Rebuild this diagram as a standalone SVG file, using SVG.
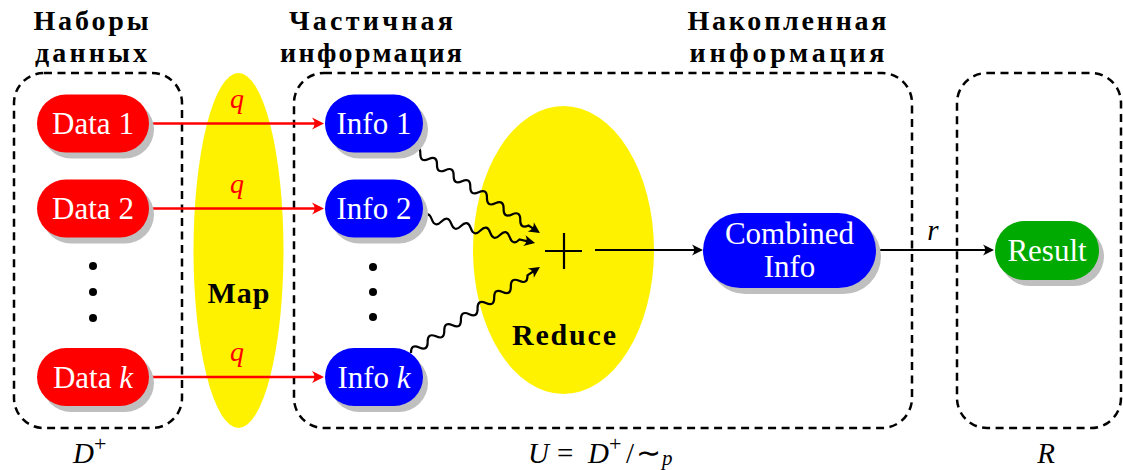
<svg xmlns="http://www.w3.org/2000/svg" width="1123" height="470" viewBox="0 0 1123 470">
<style>
.box{fill:none;stroke:#000;stroke-width:2.5;stroke-dasharray:8 5.5}
.title{font-family:"Liberation Serif","Times New Roman",serif;font-weight:bold;font-size:28px;fill:#000;text-anchor:middle}
.nt{font-family:"Liberation Serif","Times New Roman",serif;font-size:31px;fill:#fff;text-anchor:middle}
.bold{font-family:"Liberation Serif","Times New Roman",serif;font-weight:bold;font-size:30px;fill:#000;text-anchor:middle}
.math{font-family:"Liberation Serif","Times New Roman",serif;font-size:29px;fill:#000}
.q{font-family:"Liberation Serif","Times New Roman",serif;font-style:italic;font-size:28px;fill:#ff0000;text-anchor:middle}
.sh{fill:#bfbfbf}
.red{fill:#ff0000}
.blue{fill:#0000ff}
.green{fill:#00aa00}
.yel{fill:#fff200}
.ra{stroke:#ff0000;stroke-width:2.6;fill:none}
.ba{stroke:#000;stroke-width:2.2;fill:none}
.dot{fill:#000}
</style>
<defs>
<marker id="arR" viewBox="-13 -7 15 14" refX="-3" refY="0" markerWidth="15" markerHeight="14" markerUnits="userSpaceOnUse" orient="auto">
<path d="M0,0 L-12,-6 Q-7,0 -12,6 Z" fill="#ff0000"/>
</marker>
<marker id="arB" viewBox="-13 -7 15 14" refX="-3" refY="0" markerWidth="15" markerHeight="14" markerUnits="userSpaceOnUse" orient="auto">
<path d="M0,0 L-11,-5.5 Q-6.5,0 -11,5.5 Z" fill="#000"/>
</marker>
</defs>

<!-- background shapes -->
<g id="map">
<ellipse cx="238.5" cy="250.5" rx="45" ry="177.5" class="yel"/>
<text x="238.5" y="303" class="bold" textLength="62">Map</text>
</g>
<g id="reduce">
<ellipse cx="563.5" cy="250" rx="90.5" ry="144" class="yel"/>
<text x="564" y="345" class="bold" textLength="104">Reduce</text>
<path d="M545,251 H582 M564,233 V269" stroke="#000" stroke-width="2.2"/>
</g>

<!-- dashed regions -->
<g id="region-D">
<rect x="14" y="73" width="168" height="355" rx="30" class="box"/>
<text x="91" y="30" class="title" textLength="115">Наборы</text>
<text x="91" y="62" class="title" textLength="112">данных</text>
<text x="73" y="463" class="math"><tspan font-style="italic">D</tspan><tspan font-size="22" dy="-12">+</tspan></text>
</g>
<g id="region-U">
<rect x="294" y="73" width="618" height="355" rx="30" class="box"/>
<text x="371" y="30" class="title" textLength="164">Частичная</text>
<text x="371" y="62" class="title" textLength="182">информация</text>
<text x="787" y="30" class="title" textLength="199">Накопленная</text>
<text x="787" y="62" class="title" textLength="195">информация</text>
<text y="463" class="math"><tspan x="528" font-style="italic">U</tspan><tspan x="557">=</tspan><tspan x="588" font-style="italic">D</tspan><tspan font-size="22" dy="-12">+</tspan><tspan x="626" dy="12">/</tspan><tspan x="636" font-size="30" font-weight="normal">∼</tspan><tspan x="662" font-style="italic" font-size="21" dy="2">p</tspan></text>
</g>
<g id="region-R">
<rect x="957" y="73" width="164" height="355" rx="30" class="box"/>
<text x="1046" y="463" class="math" font-style="italic" text-anchor="middle">R</text>
</g>

<!-- connectors -->
<g id="connectors">
<line x1="149" y1="123.5" x2="321" y2="123.5" class="ra" marker-end="url(#arR)"/>
<line x1="149" y1="208.5" x2="321" y2="208.5" class="ra" marker-end="url(#arR)"/>
<line x1="149" y1="377" x2="321" y2="377" class="ra" marker-end="url(#arR)"/>
<text x="237" y="108" class="q">q</text>
<text x="237" y="193" class="q">q</text>
<text x="237" y="361" class="q">q</text>
<path transform="translate(412,148) rotate(33.6)" class="ba" marker-end="url(#arB)" d="M0,0 q5,-8 10,0 t10,0 t10,0 t10,0 t10,0 t10,0 t10,0 t10,0 t10,0 t10,0 t10,0 t10,0 t10,0 t10,0 l10.6,0"/>
<path transform="translate(422,217) rotate(12.96)" class="ba" marker-end="url(#arB)" d="M0,0 q5,-8 10,0 t10,0 t10,0 t10,0 t10,0 t10,0 t10,0 t10,0 t10,0 t10,0 l13,0"/>
<path transform="translate(411,353) rotate(-33.7)" class="ba" marker-end="url(#arB)" d="M0,0 q5,-8 10,0 t10,0 t10,0 t10,0 t10,0 t10,0 t10,0 t10,0 t10,0 t10,0 t10,0 t10,0 t10,0 t10,0 l12,0"/>
<line x1="595" y1="250" x2="700" y2="250" class="ba" marker-end="url(#arB)"/>
<line x1="876" y1="250" x2="991" y2="250" class="ba" marker-end="url(#arB)"/>
<text x="933" y="240" class="math" font-style="italic" font-size="27" text-anchor="middle">r</text>
</g>

<!-- nodes -->
<g id="data1">
<rect x="42" y="100.5" width="112" height="58" rx="29" class="sh"/>
<rect x="37" y="94.5" width="112" height="58" rx="29" class="red"/>
<text x="93" y="134" class="nt">Data 1</text>
</g>
<g id="data2">
<rect x="42" y="185.5" width="112" height="58" rx="29" class="sh"/>
<rect x="37" y="179.5" width="112" height="58" rx="29" class="red"/>
<text x="93" y="219" class="nt">Data 2</text>
</g>
<g id="dots-data">
<circle cx="93" cy="266" r="4" class="dot"/>
<circle cx="93" cy="292" r="4" class="dot"/>
<circle cx="93" cy="318" r="4" class="dot"/>
</g>
<g id="datak">
<rect x="42" y="354" width="112" height="58" rx="29" class="sh"/>
<rect x="37" y="348" width="112" height="58" rx="29" class="red"/>
<text x="93" y="388" class="nt">Data <tspan font-style="italic">k</tspan></text>
</g>
<g id="info1">
<rect x="330" y="100.5" width="98" height="58" rx="29" class="sh"/>
<rect x="325" y="94.5" width="98" height="58" rx="29" class="blue"/>
<text x="374" y="134" class="nt">Info 1</text>
</g>
<g id="info2">
<rect x="330" y="185.5" width="98" height="58" rx="29" class="sh"/>
<rect x="325" y="179.5" width="98" height="58" rx="29" class="blue"/>
<text x="374" y="219" class="nt">Info 2</text>
</g>
<g id="dots-info">
<circle cx="373" cy="267" r="4" class="dot"/>
<circle cx="373" cy="292" r="4" class="dot"/>
<circle cx="373" cy="317" r="4" class="dot"/>
</g>
<g id="infok">
<rect x="330" y="354" width="98" height="58" rx="29" class="sh"/>
<rect x="325" y="348" width="98" height="58" rx="29" class="blue"/>
<text x="374" y="388" class="nt">Info <tspan font-style="italic">k</tspan></text>
</g>
<g id="combined">
<rect x="708" y="219" width="173" height="75" rx="37.5" class="sh"/>
<rect x="703" y="213" width="173" height="75" rx="37.5" class="blue"/>
<text x="789.5" y="244" class="nt">Combined</text>
<text x="789.5" y="277" class="nt">Info</text>
</g>
<g id="result">
<rect x="1000" y="227" width="104" height="59" rx="29.5" class="sh"/>
<rect x="995" y="221" width="104" height="59" rx="29.5" class="green"/>
<text x="1047" y="261" class="nt">Result</text>
</g>
</svg>
